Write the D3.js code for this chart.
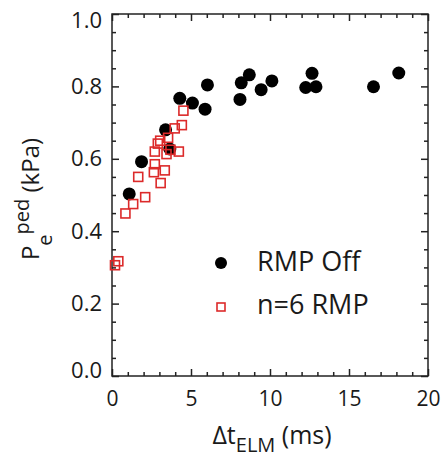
<!DOCTYPE html>
<html>
<head>
<meta charset="utf-8">
<script src="https://cdn.jsdelivr.net/npm/d3@7"></script>
<style>
  html, body { margin: 0; padding: 0; background: #fff; }
  svg { display: block; }
  text { font-family: "Open Sans", "DejaVu Sans", sans-serif; fill: #1a1a1a; }
</style>
</head>
<body>
<svg id="chart" width="441" height="457"></svg>
<script>
// ---- data ----
const rmpOffX = [1.09, 1.87, 3.39, 3.66, 4.29, 5.09, 5.89, 6.04, 8.10, 8.18, 8.69, 9.44, 10.12, 12.26, 12.66, 12.91, 16.55, 18.15];
const rmpOffY = [0.503, 0.592, 0.680, 0.627, 0.767, 0.754, 0.737, 0.804, 0.764, 0.810, 0.832, 0.791, 0.815, 0.797, 0.836, 0.799, 0.799, 0.837];

const rmp6X = [0.19, 0.40, 0.85, 1.34, 1.66, 2.10, 2.65, 2.71, 3.08, 3.34, 2.71, 2.90, 3.05, 3.45, 3.55, 3.97, 4.42, 4.52, 4.23, 3.70];
const rmp6Y = [0.306, 0.317, 0.449, 0.475, 0.550, 0.494, 0.563, 0.585, 0.533, 0.568, 0.620, 0.642, 0.650, 0.613, 0.658, 0.684, 0.693, 0.733, 0.620, 0.625];

const xTicks = [0, 5, 10, 15, 20];
const yTicks = [0.0, 0.2, 0.4, 0.6, 0.8, 1.0];
const legendLabels = ["RMP Off", "n=6 RMP"];

// ---- layout ----
const svg = d3.select("#chart");
const L = 112, R = 428, T = 14, B = 376;
const x = d3.scaleLinear().domain([0, 20]).range([L, R]);
const y = d3.scaleLinear().domain([0, 1]).range([B, T]);
const axisColor = "#222";
const red = "#dc2a2a";

const xMinor = d3.range(0, 20.001, 1).filter(v => v % 5 !== 0);
const yMinor = d3.range(0, 1.0001, 0.05).map(v => +v.toFixed(2)).filter(v => Math.abs(v * 5 - Math.round(v * 5)) > 1e-6);

function styleAxis(g, fs) {
  g.select(".domain").remove();
  g.selectAll(".tick line").attr("stroke", axisColor).attr("stroke-width", 1.5);
  g.selectAll(".tick text").attr("font-size", fs || 21).attr("fill", "#1a1a1a")
    .attr("font-family", '"Open Sans", "DejaVu Sans", sans-serif');
}

// bottom
svg.append("g").attr("transform", `translate(0,${B})`)
  .call(d3.axisBottom(x).tickValues(xTicks).tickSize(-7).tickPadding(15).tickFormat(d3.format("d")))
  .call(g => styleAxis(g, 21));
svg.append("g").attr("transform", `translate(0,${B})`)
  .call(d3.axisBottom(x).tickValues(xMinor).tickSize(-4).tickFormat(""))
  .call(g => styleAxis(g));
// top
svg.append("g").attr("transform", `translate(0,${T})`)
  .call(d3.axisTop(x).tickValues(xTicks).tickSize(-7).tickFormat(""))
  .call(g => styleAxis(g));
svg.append("g").attr("transform", `translate(0,${T})`)
  .call(d3.axisTop(x).tickValues(xMinor).tickSize(-4).tickFormat(""))
  .call(g => styleAxis(g));
// left
const yAxisG = svg.append("g").attr("transform", `translate(${L},0)`)
  .call(d3.axisLeft(y).tickValues(yTicks).tickSize(-7).tickPadding(10).tickFormat(d3.format(".1f")))
  .call(g => styleAxis(g, 22));
// end labels sit slightly inside the frame in the reference
yAxisG.selectAll(".tick text").attr("dy", d => d === 1 ? "0.62em" : (d === 0 ? "0.08em" : "0.32em"));
svg.append("g").attr("transform", `translate(${L},0)`)
  .call(d3.axisLeft(y).tickValues(yMinor).tickSize(-4).tickFormat(""))
  .call(g => styleAxis(g));
// right
svg.append("g").attr("transform", `translate(${R},0)`)
  .call(d3.axisRight(y).tickValues(yTicks).tickSize(-7).tickFormat(""))
  .call(g => styleAxis(g));
svg.append("g").attr("transform", `translate(${R},0)`)
  .call(d3.axisRight(y).tickValues(yMinor).tickSize(-4).tickFormat(""))
  .call(g => styleAxis(g));

// frame
svg.append("rect").attr("x", L).attr("y", T).attr("width", R - L).attr("height", B - T)
  .attr("fill", "none").attr("stroke", axisColor).attr("stroke-width", 1.5);

// ---- marks ----
const offData = rmpOffX.map((v, i) => ({ x: v, y: rmpOffY[i] }));
const rmpData = rmp6X.map((v, i) => ({ x: v, y: rmp6Y[i] }));

svg.append("g").selectAll("circle").data(offData).join("circle")
  .attr("cx", d => x(d.x)).attr("cy", d => y(d.y)).attr("r", 6.5).attr("fill", "#000");

const sq = 9;
svg.append("g").selectAll("rect").data(rmpData).join("rect")
  .attr("x", d => x(d.x) - sq / 2).attr("y", d => y(d.y) - sq / 2)
  .attr("width", sq).attr("height", sq)
  .attr("fill", "none").attr("stroke", red).attr("stroke-width", 1.6);

// ---- legend ----
const lg = svg.append("g");
lg.append("circle").attr("cx", 221).attr("cy", 263).attr("r", 6).attr("fill", "#000");
lg.append("rect").attr("x", 221 - 4).attr("y", 307 - 4).attr("width", 8).attr("height", 8)
  .attr("fill", "none").attr("stroke", red).attr("stroke-width", 1.6);
lg.append("text").attr("x", 257).attr("y", 271).attr("font-size", 27).text(legendLabels[0]);
lg.append("text").attr("x", 257).attr("y", 314).attr("font-size", 27).text(legendLabels[1]);

// ---- axis titles ----
const xt = svg.append("text").attr("x", 272).attr("y", 444).attr("text-anchor", "middle").attr("font-size", 25);
xt.append("tspan").text("\u0394t");
xt.append("tspan").attr("font-size", 20).attr("dy", 8).text("ELM");
xt.append("tspan").attr("dy", -8).text(" (ms)");

const yt = svg.append("text").attr("transform", "translate(39,199) rotate(-90)")
  .attr("text-anchor", "middle").attr("font-size", 24);
yt.append("tspan").text("P");
yt.append("tspan").attr("font-size", 20).attr("dy", 13).text("e");
yt.append("tspan").attr("font-size", 20).attr("dy", -23).text("ped");
yt.append("tspan").attr("dy", 10).text(" (kPa)");
</script>
</body>
</html>
